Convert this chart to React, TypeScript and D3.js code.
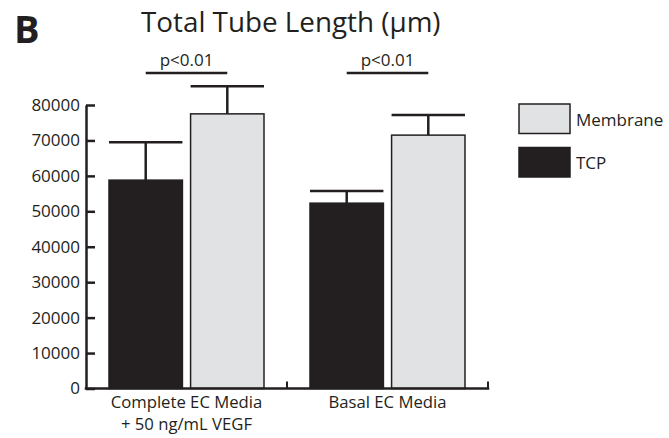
import React, { useEffect, useRef } from 'react';
import * as d3 from 'd3';

// groups along the x axis (second line of the first label goes under it)
const groups = ['Complete EC Media', 'Basal EC Media'];
const groupSubLabels = ['+ 50 ng/mL VEGF', ''];
const series = ['TCP', 'Membrane'];
const tcpMeans = [58800, 52300];
const tcpErrors = [10700, 3400];
const membraneMeans = [77500, 71500];
const membraneErrors = [7800, 5700];
const yTicks = [0, 10000, 20000, 30000, 40000, 50000, 60000, 70000, 80000];
const sigLabels = ['p<0.01', 'p<0.01'];
const legendOrder = ['Membrane', 'TCP'];

const INK = '#231f20';
const FONT = '"Open Sans", sans-serif';
const colors: Record<string, string> = { TCP: '#231f20', Membrane: '#e1e2e4' };

const App = () => {
  const ref = useRef<SVGSVGElement | null>(null);

  useEffect(() => {
    const svg = d3.select(ref.current);
    svg.selectAll('*').remove();

    const left = 86, right = 488, top = 105, bottom = 388.5;

    const x0 = d3.scaleBand().domain(groups).range([left, right]).padding(0);
    const x1 = d3.scaleBand().domain(series).range([23, 178]).paddingInner(0.1);
    const y = d3.scaleLinear().domain([0, 80000]).range([bottom, top]);

    const rows = groups.map((g, i) => ({
      group: g,
      bars: [
        { key: 'TCP', value: tcpMeans[i], err: tcpErrors[i] },
        { key: 'Membrane', value: membraneMeans[i], err: membraneErrors[i] },
      ],
    }));

    // panel letter + title
    svg.append('text')
      .attr('x', 14).attr('y', 43)
      .style('font-family', FONT).style('font-weight', 700).style('font-size', '38px')
      .attr('fill', INK).text('B');
    svg.append('text')
      .attr('x', 141).attr('y', 32)
      .style('font-family', FONT).style('font-size', '27.8px')
      .attr('fill', INK).text('Total Tube Length (µm)');

    // bars
    const g = svg.selectAll('.grp').data(rows).enter().append('g')
      .attr('transform', d => `translate(${x0(d.group)},0)`);

    g.selectAll('rect').data(d => d.bars).enter().append('rect')
      .attr('x', d => x1(d.key)!)
      .attr('y', d => y(d.value))
      .attr('width', x1.bandwidth())
      .attr('height', d => y(0) - y(d.value))
      .attr('fill', d => colors[d.key])
      .attr('stroke', INK).attr('stroke-width', 1.5);

    // error bars (upper only)
    g.selectAll('.stem').data(d => d.bars).enter().append('line')
      .attr('x1', d => x1(d.key)! + x1.bandwidth() / 2)
      .attr('x2', d => x1(d.key)! + x1.bandwidth() / 2)
      .attr('y1', d => y(d.value))
      .attr('y2', d => y(d.value + d.err))
      .attr('stroke', INK).attr('stroke-width', 2.5);
    g.selectAll('.cap').data(d => d.bars).enter().append('line')
      .attr('x1', d => x1(d.key)!)
      .attr('x2', d => x1(d.key)! + x1.bandwidth())
      .attr('y1', d => y(d.value + d.err))
      .attr('y2', d => y(d.value + d.err))
      .attr('stroke', INK).attr('stroke-width', 2.5);

    // significance lines, from TCP centre to Membrane centre
    g.append('line')
      .attr('x1', x1('TCP')! + x1.bandwidth() / 2)
      .attr('x2', x1('Membrane')! + x1.bandwidth() / 2)
      .attr('y1', 73).attr('y2', 73)
      .attr('stroke', INK).attr('stroke-width', 2.5);
    g.append('text')
      .attr('x', (x1('TCP')! + x1('Membrane')! + x1.bandwidth()) / 2)
      .attr('y', 66)
      .attr('text-anchor', 'middle')
      .style('font-family', FONT).style('font-size', '17px')
      .attr('fill', INK)
      .text((d, i) => sigLabels[i]);

    // y axis, ticks pointing inward
    const yAxis = svg.append('g')
      .attr('transform', `translate(${left},0)`)
      .call(d3.axisLeft(y).tickValues(yTicks).tickSizeInner(-9).tickSizeOuter(0).tickPadding(6).tickFormat(d3.format('d')));
    yAxis.select('.domain').attr('stroke', INK).attr('stroke-width', 2.5);
    yAxis.selectAll('.tick line').attr('stroke', INK).attr('stroke-width', 2.5);
    yAxis.selectAll('.tick text')
      .style('font-family', FONT).style('font-size', '17px').attr('fill', INK);

    // x axis baseline with small upward ticks at group boundaries
    svg.append('line')
      .attr('x1', left - 1.25).attr('x2', right + 1.25)
      .attr('y1', bottom).attr('y2', bottom)
      .attr('stroke', INK).attr('stroke-width', 2.5);
    svg.selectAll('.xtick').data(groups).enter().append('line')
      .attr('x1', d => x0(d)! + x0.bandwidth())
      .attr('x2', d => x0(d)! + x0.bandwidth())
      .attr('y1', bottom).attr('y2', bottom - 7)
      .attr('stroke', INK).attr('stroke-width', 2);

    const xl = svg.selectAll('.xlab').data(groups).enter().append('text')
      .attr('text-anchor', 'middle')
      .attr('x', d => x0(d)! + x0.bandwidth() / 2)
      .attr('y', 408)
      .style('font-family', FONT).style('font-size', '16.7px')
      .attr('fill', INK);
    xl.append('tspan').text(d => d);
    xl.append('tspan')
      .attr('x', d => x0(d)! + x0.bandwidth() / 2)
      .attr('dy', 21.5)
      .text((d, i) => groupSubLabels[i]);

    // legend
    const lg = svg.selectAll('.leg').data(legendOrder).enter().append('g')
      .attr('transform', (d, i) => `translate(519,${104 + i * 43.5})`);
    lg.append('rect')
      .attr('width', 51).attr('height', 29.5)
      .attr('fill', d => colors[d])
      .attr('stroke', INK).attr('stroke-width', 1.5);
    lg.append('text')
      .attr('x', 57).attr('y', 21.5)
      .style('font-family', FONT).style('font-size', '17px')
      .attr('fill', INK).text(d => d);
  }, []);

  return (
    <svg ref={ref} width={669} height={438}
      style={{ position: 'absolute', left: 0, top: 0, background: '#fff' }} />
  );
};

export default App;
